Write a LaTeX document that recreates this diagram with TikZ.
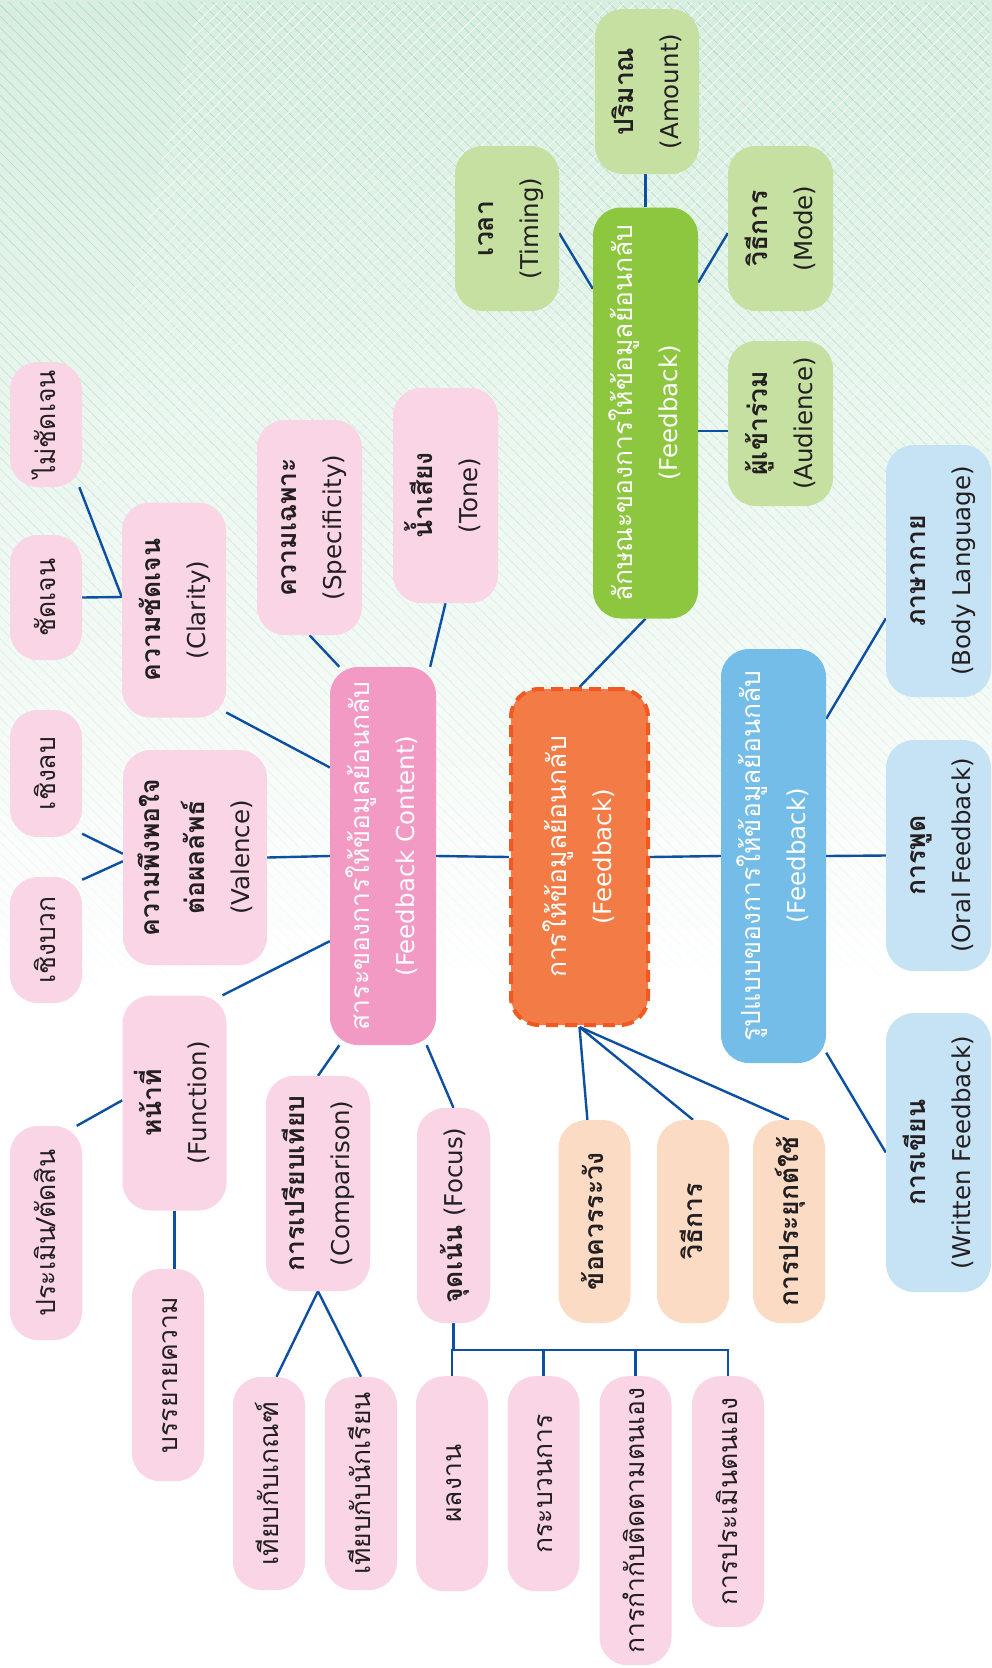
\documentclass[tikz,border=0pt]{standalone}
\usepackage{fontspec}
\setmainfont{Loma}[Script=Thai]
\newfontfamily\latinfont{DejaVu Sans}
\usetikzlibrary{calc, positioning, backgrounds, patterns.meta, fadings}

\definecolor{bggreen}{HTML}{D8EEE0}
\definecolor{hatchgreen}{HTML}{A8DBBE}
\definecolor{linkblue}{HTML}{0D4FA0}
\definecolor{textdark}{HTML}{231F20}
\definecolor{pinkleaf}{HTML}{F9D5E5}
\definecolor{pinkmain}{HTML}{F39AC4}
\definecolor{corefill}{HTML}{F37B45}
\definecolor{coreedge}{HTML}{F05A22}
\definecolor{peach}{HTML}{FCDBC5}
\definecolor{greenmain}{HTML}{8DC63F}
\definecolor{greenleaf}{HTML}{C5E0A0}
\definecolor{bluemain}{HTML}{74BDE8}
\definecolor{blueleaf}{HTML}{C6E2F5}

\def\pillw{72pt}
\def\boxw{104pt}
\newcommand{\vtext}[1]{\rotatebox{90}{\fontsize{26.5}{45}\selectfont\begin{tabular}{@{}c@{}}#1\end{tabular}}}
\newcommand{\en}[1]{{\latinfont\mdseries\fontsize{24.5}{45}\selectfont #1}}

\tikzstyle{box}=[rounded corners=28pt, inner sep=0pt, text=textdark]
\tikzstyle{leaf}=[box, fill=pinkleaf, minimum width=\pillw]
\tikzstyle{topic}=[box, fill=pinkleaf, minimum width=\boxw, minimum height=215pt, font=\bfseries]
\tikzstyle{peach box}=[box, fill=peach, minimum width=\pillw, minimum height=203pt, font=\bfseries]
\tikzstyle{green box}=[box, fill=greenleaf, minimum width=\boxw, minimum height=165pt, font=\bfseries]
\tikzstyle{blue box}=[box, fill=blueleaf, minimum width=105pt, font=\bfseries]
\tikzstyle{main}=[box, text=white, minimum width=105pt]
\tikzstyle{link}=[draw=linkblue, line width=2.4pt]

\begin{document}
\begin{tikzpicture}[x=1pt, y=-1pt]
\useasboundingbox (0,0) rectangle (992,1668);

% Main branches
\node[main, fill=pinkmain, minimum width=106pt, minimum height=378pt] (content) at (383,856)
  {\vtext{สาระของการให้ข้อมูลย้อนกลับ\\\en{(Feedback Content)}}};
\node[main, fill=corefill, draw=coreedge, line width=4pt, dash pattern=on 12pt off 7pt,
  minimum width=137pt, minimum height=336pt] (core) at (579.5,857)
  {\vtext{การให้ข้อมูลย้อนกลับ\\\en{(Feedback)}}};
\node[main, fill=greenmain, minimum height=411pt] (traits) at (645.5,413)
  {\vtext{ลักษณะของการให้ข้อมูลย้อนกลับ\\\en{(Feedback)}}};
\node[main, fill=bluemain, minimum height=414pt] (forms) at (773.5,856)
  {\vtext{รูปแบบของการให้ข้อมูลย้อนกลับ\\\en{(Feedback)}}};

% Content topics
\node[topic] (clarity) at (174,610) {\vtext{ความชัดเจน\\\en{(Clarity)}}};
\node[topic, minimum width=105pt] (specificity) at (309.5,527.5) {\vtext{ความเฉพาะ\\\en{(Specificity)}}};
\node[topic, minimum width=105pt] (tone) at (445.5,495.5) {\vtext{น้ำเสียง\\\en{(Tone)}}};
\node[topic, minimum width=144pt] (valence) at (195,857.5) {\vtext{ความพึงพอใจ\\ต่อผลลัพธ์\\\en{(Valence)}}};
\node[topic] (function) at (174.5,1103) {\vtext{หน้าที่\\\en{(Function)}}};
\node[topic] (comparison) at (318,1183.5) {\vtext{การเปรียบเทียบ\\\en{(Comparison)}}};
\node[topic, minimum width=73pt] (focus) at (453.5,1215.5) {\vtext{จุดเน้น \en{(Focus)}}};

% Small leaves
\foreach \name/\x/\y/\h/\txt in {unclear/46/424.5/125/ไม่ชัดเจน, clear/46/597.5/125/ชัดเจน,
  negative/46/773.5/127/เชิงลบ, positive/46/940/126/เชิงบวก, judge/46/1233/214/{ประเมิน/ตัดสิน},
  describe/168/1375/212/บรรยายความ, vscrit/269/1483.5/213/เทียบกับเกณฑ์,
  vsstud/361/1483.5/213/เทียบกับนักเรียน}
  \node[leaf, minimum height=\h pt] (\name) at (\x,\y) {\vtext{\txt}};

% Focus leaves
\foreach \name/\x/\h/\txt in {product/452/215/ผลงาน, process/543.5/215/กระบวนการ,
  selfreg/635.5/289/การกำกับติดตามตนเอง, selfeval/728/251/การประเมินตนเอง}
  \node[leaf, minimum height=\h pt, anchor=north] (\name) at (\x,1376) {\vtext{\txt}};

% Core leaves
\foreach \name/\x/\txt in {caution/594.5/ข้อควรระวัง, method/693/วิธีการ, apply/789/การประยุกต์ใช้}
  \node[peach box] (\name) at (\x,1221.5) {\vtext{\txt}};

% Trait leaves
\node[green box] (amount) at (647,91.5) {\vtext{ปริมาณ\\\en{(Amount)}}};
\node[green box] (timing) at (507,228.5) {\vtext{เวลา\\\en{(Timing)}}};
\node[green box, minimum width=105pt] (mode) at (780.5,228.5) {\vtext{วิธีการ\\\en{(Mode)}}};
\node[green box, minimum width=105pt] (audience) at (780.5,423.5) {\vtext{ผู้เข้าร่วม\\\en{(Audience)}}};

% Form leaves
\node[blue box, minimum height=252pt] (body) at (938.5,571) {\vtext{ภาษากาย\\\en{(Body Language)}}};
\node[blue box, minimum height=231pt] (oral) at (938.5,855.5) {\vtext{การพูด\\\en{(Oral Feedback)}}};
\node[blue box, minimum height=279pt] (written) at (938.5,1152.5) {\vtext{การเขียน\\\en{(Written Feedback)}}};

% Background wash
\begin{scope}[on background layer]
  \fill[top color=bggreen, bottom color=white, middle color=bggreen!45] (0,0) rectangle (992,1000);
  \fill[pattern={Lines[angle=-45, distance=8pt, line width=0.6pt]}, pattern color=hatchgreen,
    path fading=south] (0,0) rectangle (992,1000);
  \fill[pattern={Lines[angle=45, distance=8pt, line width=0.6pt]}, pattern color=white,
    path fading=south] (200,0) -- (992,0) -- (992,1000) -- (0,1000) -- (0,850) -- cycle;
\end{scope}

% Connectors
\begin{scope}[on background layer]
  \draw[link] (unclear.-62) -- (clarity.166);
  \draw[link] (clear.east) -- (clarity.166);
  \draw[link] (clarity.-63) -- (content.121);
  \draw[link] (specificity.south) -- (content.103);
  \draw[link] (tone.south) -- (content.76);
  \draw[link] (negative.-59) -- (valence.177);
  \draw[link] (positive.59) -- (valence.183);
  \draw[link] (valence.east) -- (content.west);
  \draw[link] (content.238) -- (function.66);
  \draw[link] (judge.74) -- (function.177);
  \draw[link] (function.south) -- (function.south |- describe.north);
  \draw[link] (content.257) -- (comparison.north);
  \draw[link] (comparison.south) -- (vscrit.86);
  \draw[link] (comparison.south) -- (vsstud.north);
  \draw[link] (content.-77) -- (focus.north);
  \coordinate (bar) at ($(focus.south)+(0,27)$);
  \draw[link] (focus.south) -- (bar);
  \foreach \name in {product, process, selfreg, selfeval}
    \draw[link] (bar) -| (\name.north);
  \draw[link] (content.east) -- (core.west);
  \draw[link] (core.east) -- (forms.west);
  \draw[link] (core.south) -- (caution.94);
  \draw[link] (core.south) -- (method.north);
  \draw[link] (core.south) -- (apply.north);
  \draw[link] (core.north) -- (traits.south);
  \draw[link] (traits.north) -- (traits.north |- amount.south);
  \draw[link] (timing.-5) -- (traits.113);
  \draw[link] (mode.185) -- (traits.68);
  \draw[link] (traits.-19) -- (traits.-19 -| audience.west);
  \draw[link] (forms.69) -- (body.222);
  \draw[link] (forms.east) -- (oral.west);
  \draw[link] (forms.-75.5) -- (written.west);
\end{scope}
\end{tikzpicture}
\end{document}
